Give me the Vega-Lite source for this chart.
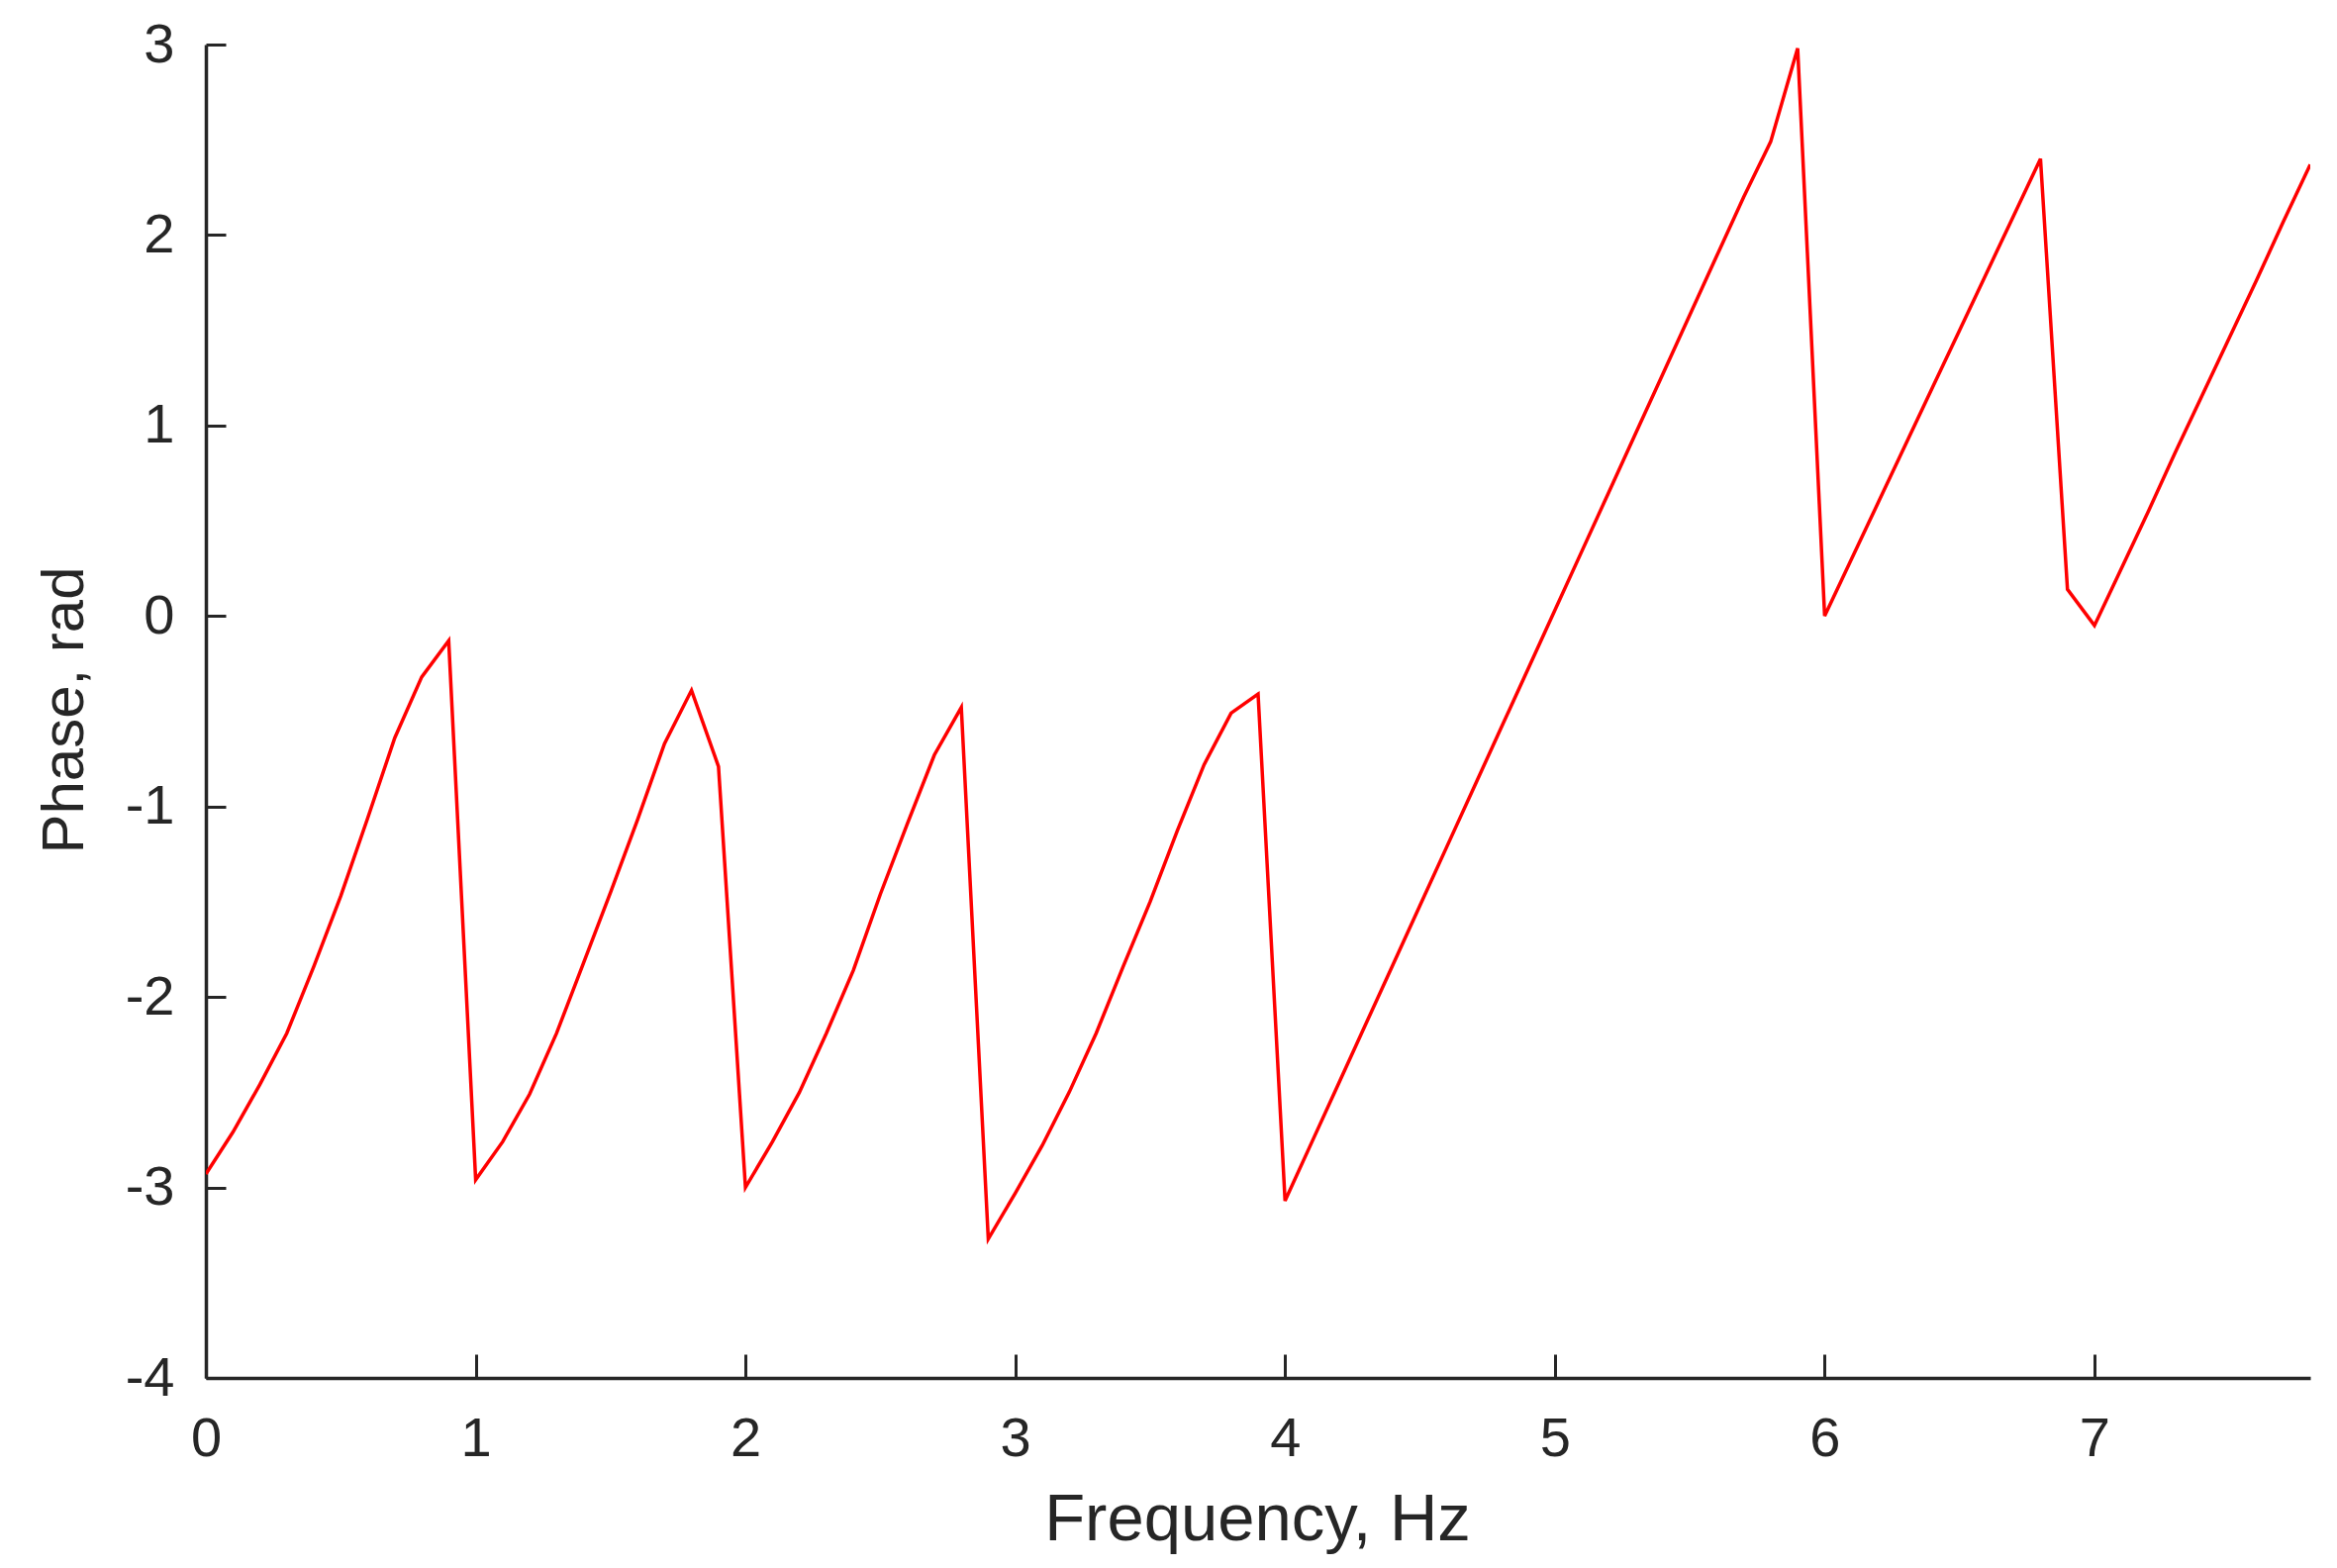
{
  "$schema": "https://vega.github.io/schema/vega-lite/v6.json",
  "width": 2126,
  "height": 1347,
  "autosize": "none",
  "padding": {"left": 208, "top": 45, "right": 27, "bottom": 192},
  "background": "white",
  "config": {
    "view": {"stroke": null},
    "font": "Liberation Sans",
    "axis": {
      "grid": false,
      "domainColor": "#262626",
      "domainWidth": 3.5,
      "tickColor": "#262626",
      "tickWidth": 3,
      "labelColor": "#262626",
      "titleColor": "#262626",
      "labelFont": "Liberation Sans",
      "titleFont": "Liberation Sans",
      "labelFontSize": 56,
      "titleFontSize": 67,
      "titleFontWeight": "normal"
    }
  },
  "data": {
    "values": [
      {"f": 0.0, "phase": -2.93},
      {"f": 0.1, "phase": -2.71},
      {"f": 0.2, "phase": -2.46},
      {"f": 0.3, "phase": -2.19},
      {"f": 0.4, "phase": -1.84},
      {"f": 0.5, "phase": -1.47},
      {"f": 0.6, "phase": -1.06},
      {"f": 0.7, "phase": -0.64},
      {"f": 0.8, "phase": -0.32},
      {"f": 0.9, "phase": -0.13},
      {"f": 1.0, "phase": -2.96},
      {"f": 1.1, "phase": -2.76},
      {"f": 1.2, "phase": -2.51},
      {"f": 1.3, "phase": -2.19},
      {"f": 1.4, "phase": -1.82},
      {"f": 1.5, "phase": -1.45},
      {"f": 1.6, "phase": -1.07},
      {"f": 1.7, "phase": -0.67},
      {"f": 1.8, "phase": -0.39},
      {"f": 1.9, "phase": -0.79},
      {"f": 2.0, "phase": -3.0},
      {"f": 2.1, "phase": -2.76},
      {"f": 2.2, "phase": -2.5},
      {"f": 2.3, "phase": -2.19},
      {"f": 2.4, "phase": -1.86},
      {"f": 2.5, "phase": -1.46},
      {"f": 2.6, "phase": -1.09},
      {"f": 2.7, "phase": -0.73},
      {"f": 2.8, "phase": -0.48},
      {"f": 2.9, "phase": -3.27},
      {"f": 3.0, "phase": -3.03},
      {"f": 3.1, "phase": -2.78},
      {"f": 3.2, "phase": -2.5},
      {"f": 3.3, "phase": -2.19},
      {"f": 3.4, "phase": -1.84},
      {"f": 3.5, "phase": -1.5},
      {"f": 3.6, "phase": -1.13},
      {"f": 3.7, "phase": -0.78},
      {"f": 3.8, "phase": -0.51},
      {"f": 3.9, "phase": -0.41},
      {"f": 4.0, "phase": -3.07},
      {"f": 4.1, "phase": -2.76},
      {"f": 4.2, "phase": -2.45},
      {"f": 4.3, "phase": -2.14},
      {"f": 4.4, "phase": -1.83},
      {"f": 4.5, "phase": -1.52},
      {"f": 4.6, "phase": -1.21},
      {"f": 4.7, "phase": -0.9},
      {"f": 4.8, "phase": -0.59},
      {"f": 4.9, "phase": -0.28},
      {"f": 5.0, "phase": 0.03},
      {"f": 5.1, "phase": 0.34},
      {"f": 5.2, "phase": 0.65},
      {"f": 5.3, "phase": 0.96},
      {"f": 5.4, "phase": 1.27},
      {"f": 5.5, "phase": 1.58},
      {"f": 5.6, "phase": 1.89},
      {"f": 5.7, "phase": 2.2},
      {"f": 5.8, "phase": 2.49},
      {"f": 5.9, "phase": 2.98},
      {"f": 6.0, "phase": 0.0},
      {"f": 6.1, "phase": 0.3},
      {"f": 6.2, "phase": 0.6},
      {"f": 6.3, "phase": 0.9},
      {"f": 6.4, "phase": 1.2},
      {"f": 6.5, "phase": 1.5},
      {"f": 6.6, "phase": 1.8},
      {"f": 6.7, "phase": 2.1},
      {"f": 6.8, "phase": 2.4},
      {"f": 6.9, "phase": 0.14},
      {"f": 7.0, "phase": -0.05},
      {"f": 7.1, "phase": 0.25},
      {"f": 7.2, "phase": 0.55},
      {"f": 7.3, "phase": 0.86},
      {"f": 7.4, "phase": 1.16},
      {"f": 7.5, "phase": 1.46},
      {"f": 7.6, "phase": 1.76},
      {"f": 7.7, "phase": 2.07},
      {"f": 7.8, "phase": 2.37}
    ]
  },
  "mark": {"type": "line", "color": "#ff0000", "strokeWidth": 3.5, "clip": true},
  "encoding": {
    "x": {
      "field": "f",
      "type": "quantitative",
      "scale": {"domain": [0, 7.8], "nice": false, "zero": false},
      "axis": {
        "title": "Frequency, Hz",
        "values": [0, 1, 2, 3, 4, 5, 6, 7],
        "labelExpr": "'' + datum.value",
        "tickSize": -24,
        "labelPadding": 102,
        "labelBaseline": "alphabetic",
        "labelFlush": false,
        "labelOverlap": false,
        "titleX": 1062,
        "titleY": 163,
        "titleBaseline": "alphabetic",
        "titleAlign": "center"
      }
    },
    "y": {
      "field": "phase",
      "type": "quantitative",
      "scale": {"domain": [-4, 3], "nice": false, "zero": false},
      "axis": {
        "title": "Phase, rad",
        "values": [-4, -3, -2, -1, 0, 1, 2, 3],
        "labelExpr": "'' + datum.value",
        "tickSize": -20,
        "labelPadding": 52,
        "labelFlush": false,
        "labelOverlap": false,
        "titleAngle": 270,
        "titleX": -125,
        "titleY": 672,
        "titleFontSize": 60,
        "titleBaseline": "alphabetic",
        "titleAlign": "center"
      }
    }
  }
}
